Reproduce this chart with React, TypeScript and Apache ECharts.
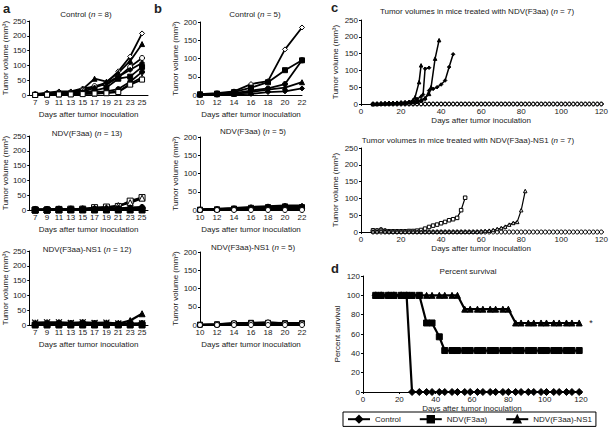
import React, { useEffect, useRef } from 'react';
import * as echarts from 'echarts';

const FONT = '"Liberation Sans", Arial, Helvetica, sans-serif';
const INK = '#222';

// ---------- Panel a (days 7..25) ----------
const aDays = ['7', '9', '11', '13', '15', '17', '19', '21', '23', '25'];
const aControl = [
  [3, 8, 12, 12, 22, 28, 42, 80, 130, 208],
  [2, 5, 8, 10, 20, 55, 45, 75, 115, 172],
  [2, 4, 6, 8, 15, 30, 35, 60, 95, 125],
  [1, 3, 5, 6, 10, 25, 40, 62, 85, 108],
  [1, 2, 4, 5, 8, 15, 25, 55, 62, 95],
  [1, 2, 3, 4, 6, 10, 12, 20, 45, 78],
  [0, 1, 2, 3, 5, 5, 8, 12, 38, 60],
  [0, 1, 2, 2, 3, 5, 6, 10, 35, 52],
];
const aControlMarks = ['od', 'ft', 'oc', 'fd', 'fs', 'fc', 'ot', 'os'];

const aNdv = [
  [0, 0, 2, 3, 3, 8, 10, 12, 30, 42],
  [0, 0, 1, 2, 2, 5, 8, 15, 25, 40],
  [1, 1, 2, 2, 4, 5, 4, 5, 8, 10],
  [0, 1, 2, 2, 2, 3, 5, 5, 5, 5],
  [2, 2, 3, 3, 3, 3, 3, 3, 5, 8],
  [0, 0, 0, 0, 0, 0, 0, 0, 0, 0],
];
const aNdvMarks = ['os', 'ot', 'ft', 'fd', 'fc', 'fs'];

const aNs1 = [
  [8, 9, 9, 7, 9, 7, 8, 5, 5, 5],
  [5, 5, 5, 5, 5, 5, 5, 5, 15, 38],
  [2, 4, 6, 5, 7, 5, 4, 3, 3, 5],
  [3, 3, 3, 3, 3, 3, 3, 3, 3, 3],
  [0, 0, 0, 0, 0, 0, 0, 0, 0, 0],
];
const aNs1Marks = ['x', 'ft', 'fc', 'fd', 'fs'];

// ---------- Panel b (days 10..22) ----------
const bDays = ['10', '12', '14', '16', '18', '20', '22'];
const bControl = [
  [2, 5, 10, 30, 38, 125, 185],
  [2, 4, 8, 20, 35, 68, 95],
  [1, 2, 5, 12, 18, 30, 95],
  [1, 2, 3, 8, 15, 20, 35],
  [0, 1, 2, 3, 8, 10, 18],
];
const bControlMarks = ['od', 'fs', 'fc', 'ft', 'fd'];

const bNdv = [
  [2, 3, 5, 8, 10, 12, 12],
  [1, 2, 4, 6, 8, 10, 8],
  [0, 1, 2, 4, 5, 6, 5],
  [0, 1, 2, 3, 3, 4, 3],
  [0, 0, 0, 0, 0, 0, 0],
];
const bNdvMarks = ['ft', 'fs', 'fd', 'fc', 'oc'];

const bNs1 = [
  [1, 2, 4, 6, 6, 5, 5],
  [0, 1, 3, 4, 5, 3, 3],
  [0, 0, 1, 2, 2, 2, 2],
  [0, 2, 5, 5, 7, 4, 4],
  [0, 0, 0, 0, 0, 0, 0],
];
const bNs1Marks = ['fs', 'fd', 'fc', 'oc', 'oc'];

// ---------- Panel c ----------
const cDays = [6, 8, 10, 12, 14, 16, 18, 20, 22, 24, 26, 28, 30, 32, 34, 36, 38, 40, 42, 44, 46, 48, 50, 52, 54, 56, 58, 60, 62, 64, 66, 68, 70, 72, 74, 76, 78, 80, 82, 84, 86, 88, 90, 92, 94, 96, 98, 100, 102, 104, 106, 108, 110, 112, 114, 116, 118, 120];
const cNdvSurvivor = [0, 0, 0, 0, 0, 0, 0, 0, 0, 0, 0, 0, 0, 0, 0, 0, 0, 0, 0, 0, 0, 0, 0, 0, 0, 0, 0, 0, 0, 0, 0, 0, 0, 0, 0, 0, 0, 0, 0, 0, 0, 0, 0, 0, 0, 0, 0, 0, 0, 0, 0, 0, 0, 0, 0, 0, 0, 0];
const cNs1SurvivorA = [5, 5, 8, 5, 3, 2, 2, 2, 2, 1, 1, 1, 1, 1, 0, 0, 0, 0, 0, 0, 0, 0, 0, 0, 0, 0, 0, 0, 0, 0, 0, 0, 0, 0, 0, 0, 0, 0, 0, 0, 0, 0, 0, 0, 0, 0, 0, 0, 0, 0, 0, 0, 0, 0, 0, 0, 0, 0];
const cNs1SurvivorB = [0, 0, 0, 0, 0, 0, 0, 0, 0, 0, 0, 0, 0, 0, 0, 0, 0, 0, 0, 0, 0, 0, 0, 0, 0, 0, 0, 0, 0, 0, 0, 0, 0, 0, 0, 0, 0, 0, 0, 0, 0, 0, 0, 0, 0, 0, 0, 0, 0, 0, 0, 0, 0, 0, 0, 0, 0, 0];

const cNdvMouse1 = [[6, 0], [8, 0], [10, 2], [12, 2], [14, 3], [16, 3], [18, 4], [20, 5], [22, 5], [24, 6], [26, 12], [27, 20], [29, 65], [30, 115]];
const cNdvMouse2 = [[6, 0], [8, 0], [10, 0], [12, 1], [14, 2], [16, 2], [18, 3], [20, 3], [22, 4], [24, 5], [26, 8], [28, 15], [30, 22], [31, 28], [32, 105], [34, 108]];
const cNdvMouse3 = [[6, 0], [8, 1], [10, 1], [12, 2], [14, 2], [16, 3], [18, 3], [20, 4], [22, 5], [24, 6], [26, 8], [28, 10], [30, 12], [32, 18], [34, 30], [35, 50], [37, 135], [39, 190]];
const cNdvMouse4 = [[6, 0], [8, 0], [10, 1], [12, 1], [14, 2], [16, 2], [18, 2], [20, 3], [22, 3], [24, 4], [26, 4], [28, 5], [30, 8], [32, 15], [34, 40], [36, 45], [38, 50], [40, 58], [42, 70], [44, 110], [46, 148]];

const cNs1Mouse1 = [[6, 5], [8, 4], [10, 6], [12, 3], [14, 2], [16, 2], [18, 2], [20, 2], [22, 2], [24, 3], [26, 3], [28, 4], [30, 6], [32, 10], [34, 15], [36, 19], [38, 22], [40, 26], [42, 30], [44, 35], [46, 38], [48, 42], [50, 65], [52, 102]];
const cNs1Mouse2 = [[6, 2], [8, 2], [10, 3], [12, 2], [14, 2], [16, 1], [18, 1], [20, 1], [22, 1], [24, 1], [26, 1], [28, 1], [30, 1], [32, 1], [34, 1], [36, 1], [38, 1], [40, 1], [42, 1], [44, 1], [46, 1], [48, 1], [50, 1], [52, 1], [54, 1], [56, 1], [58, 1], [60, 2], [62, 3], [64, 4], [66, 6], [68, 9], [70, 12], [72, 16], [74, 22], [76, 27], [78, 30], [80, 65], [82, 122]];

// ---------- Panel d (percent survival) ----------
const dDays = [7, 10, 14, 17, 21, 24, 27, 31, 35, 38, 42, 45, 49, 52, 56, 59, 63, 66, 70, 73, 77, 80, 84, 87, 91, 94, 98, 101, 105, 108, 112, 115, 119];
const dControl = [100, 100, 100, 100, 100, 100, 0, 0, 0, 0, 0, 0, 0, 0, 0, 0, 0, 0, 0, 0, 0, 0, 0, 0, 0, 0, 0, 0, 0, 0, 0, 0, 0];
const dNdv = [100, 100, 100, 100, 100, 100, 100, 100, 71.4, 71.4, 57.1, 42.9, 42.9, 42.9, 42.9, 42.9, 42.9, 42.9, 42.9, 42.9, 42.9, 42.9, 42.9, 42.9, 42.9, 42.9, 42.9, 42.9, 42.9, 42.9, 42.9, 42.9, 42.9];
const dNs1 = [100, 100, 100, 100, 100, 100, 100, 100, 100, 100, 100, 100, 100, 100, 85.7, 85.7, 85.7, 85.7, 85.7, 85.7, 85.7, 85.7, 71.4, 71.4, 71.4, 71.4, 71.4, 71.4, 71.4, 71.4, 71.4, 71.4, 71.4];
const dNames = ['Control', 'NDV(F3aa)', 'NDV(F3aa)-NS1'];

const X_PATH = 'path://M0,0L10,10M10,0L0,10M5,0L5,10';
const SYM: Record<string, { symbol: string; fill: string }> = {
  fd: { symbol: 'diamond', fill: '#000' },
  od: { symbol: 'diamond', fill: '#fff' },
  ft: { symbol: 'triangle', fill: '#000' },
  ot: { symbol: 'triangle', fill: '#fff' },
  fs: { symbol: 'rect', fill: '#000' },
  os: { symbol: 'rect', fill: '#fff' },
  fc: { symbol: 'circle', fill: '#000' },
  oc: { symbol: 'circle', fill: '#fff' },
  x: { symbol: X_PATH, fill: 'rgba(0,0,0,0)' },
};

function mkLine(name: string, idx: number, data: any[], key: string, size: number, width: number, extra: any = {}) {
  const s = SYM[key];
  return {
    type: 'line',
    name,
    xAxisIndex: idx,
    yAxisIndex: idx,
    data,
    symbol: s.symbol,
    symbolSize: size,
    showSymbol: true,
    showAllSymbol: true,
    clip: false,
    silent: true,
    itemStyle: { color: s.fill, borderColor: '#000', borderWidth: key === 'x' ? 1.3 : 1 },
    lineStyle: { color: '#000', width },
    emphasis: { disabled: true },
    ...extra,
  };
}

const zip = (xs: number[], ys: number[]) => xs.map((x, i) => [x, ys[i]]);

const LBL = { fontSize: 8, color: INK, fontFamily: FONT, margin: 3 };
const NAME = { fontSize: 8, color: INK, fontFamily: FONT };
const AXLINE = { show: true, onZero: false, lineStyle: { color: '#000', width: 1 } };

export default function App() {
  const ref = useRef<HTMLDivElement>(null);
  useEffect(() => {
    if (!ref.current) return;
    const chart = echarts.init(ref.current, undefined, { renderer: 'svg' });

    const gridsPos = [
      { left: 23, top: 21, width: 125, height: 74 },
      { left: 23, top: 136, width: 125, height: 74 },
      { left: 23, top: 251, width: 125, height: 74 },
      { left: 200, top: 22, width: 102, height: 73 },
      { left: 200, top: 137, width: 102, height: 73 },
      { left: 200, top: 252, width: 102, height: 73 },
      { left: 361, top: 20, width: 241, height: 84 },
      { left: 361, top: 148, width: 241, height: 84 },
      { left: 363, top: 276, width: 218, height: 116 },
    ];

    const xAxes: any[] = [];
    const yAxes: any[] = [];
    for (let i = 0; i < 9; i++) {
      let xa: any;
      let ya: any;
      if (i < 3) {
        xa = { type: 'category', data: aDays, boundaryGap: true };
        ya = { type: 'value', min: 0, max: 250, interval: 50, nameGap: 14 };
      } else if (i < 6) {
        xa = { type: 'category', data: bDays, boundaryGap: false };
        ya = { type: 'value', min: 0, max: 200, interval: 50, nameGap: 20 };
      } else if (i < 8) {
        xa = { type: 'value', min: 0, max: 120, interval: 20 };
        ya = { type: 'value', min: 0, max: 250, interval: 50, nameGap: 22 };
      } else {
        xa = { type: 'value', min: 0, max: 120, interval: 20 };
        ya = { type: 'value', min: 0, max: 120, interval: 20, nameGap: 22 };
      }
      xAxes.push({
        gridIndex: i,
        ...xa,
        axisLine: AXLINE,
        axisTick: { show: i >= 6, length: 2 },
        axisLabel: { ...LBL },
        splitLine: { show: false },
        name: 'Days after tumor inoculation',
        nameLocation: 'middle',
        nameGap: i < 6 ? 15 : 12,
        nameTextStyle: NAME,
      });
      yAxes.push({
        gridIndex: i,
        ...ya,
        axisLine: AXLINE,
        axisTick: { show: true, length: 2 },
        axisLabel: { ...LBL },
        splitLine: { show: false },
        name: i === 8 ? 'Percent survival' : 'Tumor volume (mm³)',
        nameLocation: 'middle',
        nameTextStyle: NAME,
      });
    }

    const series: any[] = [];
    aControl.forEach((d, k) => series.push(mkLine('a1-' + k, 0, d, aControlMarks[k], 5, 1.8)));
    aNdv.forEach((d, k) => series.push(mkLine('a2-' + k, 1, d, aNdvMarks[k], 6, 2.2)));
    aNs1.forEach((d, k) => series.push(mkLine('a3-' + k, 2, d, aNs1Marks[k], 6, 2.2)));
    bControl.forEach((d, k) => series.push(mkLine('b1-' + k, 3, d, bControlMarks[k], 5, 1.8)));
    bNdv.forEach((d, k) => series.push(mkLine('b2-' + k, 4, d, bNdvMarks[k], 5, 2.2)));
    bNs1.forEach((d, k) => series.push(mkLine('b3-' + k, 5, d, bNs1Marks[k], 5, 2.2)));

    series.push(mkLine('c1-s1', 6, zip(cDays, cNdvSurvivor), 'oc', 4, 1.2));
    series.push(mkLine('c1-s2', 6, zip(cDays, cNdvSurvivor), 'od', 4, 1.2));
    series.push(mkLine('c1-m1', 6, cNdvMouse1, 'ft', 3.5, 1.5));
    series.push(mkLine('c1-m2', 6, cNdvMouse2, 'fd', 3.5, 1.5));
    series.push(mkLine('c1-m3', 6, cNdvMouse3, 'ft', 3.5, 1.5));
    series.push(mkLine('c1-m4', 6, cNdvMouse4, 'fd', 3.5, 1.5));

    series.push(mkLine('c2-s1', 7, zip(cDays, cNs1SurvivorA), 'fd', 4, 1.2));
    series.push(mkLine('c2-s2', 7, zip(cDays, cNs1SurvivorB), 'oc', 4, 1.2));
    series.push(mkLine('c2-m1', 7, cNs1Mouse1, 'os', 3.5, 1.2));
    series.push(mkLine('c2-m2', 7, cNs1Mouse2, 'ot', 3.5, 1.2));

    series.push(mkLine(dNames[0], 8, zip(dDays, dControl), 'fd', 7, 2.2));
    series.push(mkLine(dNames[1], 8, zip(dDays, dNdv), 'fs', 6, 2.2));
    series.push(mkLine(dNames[2], 8, zip(dDays, dNs1), 'ft', 6, 2.2, {
      endLabel: { show: true, formatter: '*', distance: 10, fontSize: 9, color: INK, fontFamily: FONT },
    }));

    const txt = (text: string, x: number, y: number, size = 8, bold = false, align = 'center') => ({
      type: 'text',
      x,
      y,
      silent: true,
      style: {
        text,
        fill: INK,
        font: `${bold ? 'bold ' : ''}${size}px ${FONT}`,
        align,
        verticalAlign: 'middle',
        rich: { i: { fontStyle: 'italic', fontSize: size, fontFamily: FONT, fill: INK } },
      },
    });

    const graphic = [
      txt('a', 3, 8, 13, true, 'left'),
      txt('b', 154, 8, 13, true, 'left'),
      txt('c', 331, 7, 13, true, 'left'),
      txt('d', 331, 268, 13, true, 'left'),
      txt('Control ({i|n} = 8)', 86, 14),
      txt('NDV(F3aa) ({i|n} = 13)', 87, 133),
      txt('NDV(F3aa)-NS1 ({i|n} = 12)', 87, 249),
      txt('Control ({i|n} = 5)', 255, 14),
      txt('NDV(F3aa) ({i|n} = 5)', 253, 131),
      txt('NDV(F3aa)-NS1 ({i|n} = 5)', 253, 247),
      txt('Tumor volumes in mice treated with NDV(F3aa) ({i|n} = 7)', 477, 11),
      txt('Tumor volumes in mice treated with NDV(F3aa)-NS1 ({i|n} = 7)', 468, 140),
      txt('Percent survival', 468, 271),
    ];

    chart.setOption({
      animation: false,
      backgroundColor: '#fff',
      textStyle: { fontFamily: FONT },
      grid: gridsPos.map((g) => ({ ...g, containLabel: false })),
      xAxis: xAxes,
      yAxis: yAxes,
      series,
      graphic,
      legend: {
        data: dNames,
        left: 343,
        top: 412,
        width: 262,
        orient: 'horizontal',
        itemWidth: 22,
        itemHeight: 8,
        itemGap: 18,
        padding: [3, 4],
        borderColor: '#000',
        borderWidth: 1,
        textStyle: { fontSize: 8, color: INK, fontFamily: FONT },
        selectedMode: false,
      },
    });
    return () => chart.dispose();
  }, []);
  return <div ref={ref} style={{ width: 611, height: 432, position: 'absolute', left: 0, top: 0 }} />;
}
